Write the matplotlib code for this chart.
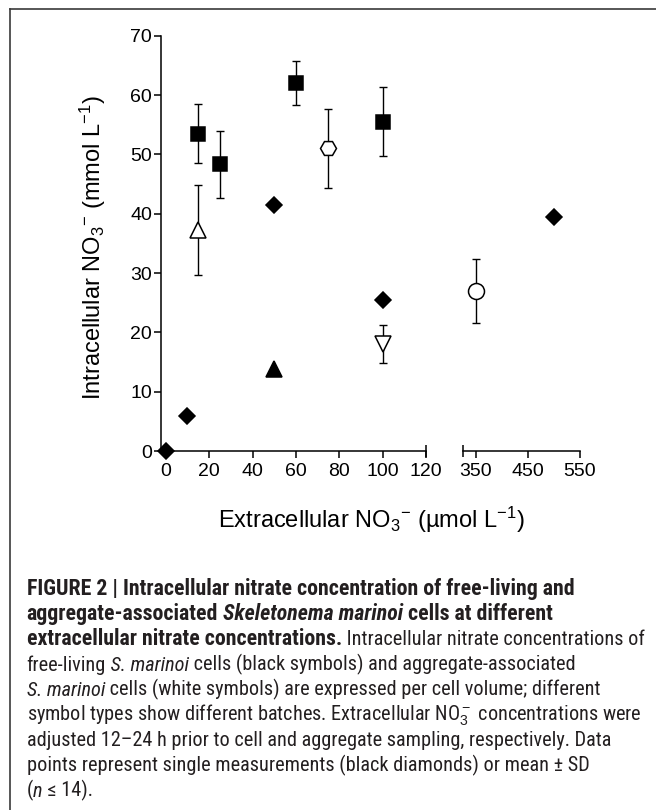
import matplotlib
matplotlib.use("Agg")
import matplotlib.pyplot as plt
import numpy as np
from matplotlib import font_manager
from matplotlib.lines import Line2D

# Free-living cells (black symbols)
diamond_x = [0, 10, 50, 100, 500]
diamond_y = [0.0, 5.9, 41.5, 25.5, 39.5]

square_x = [15, 25, 60, 100]
square_y = [53.5, 48.3, 62.0, 55.5]
square_sd = [5.0, 5.6, 3.7, 5.8]

tri_x = [50]
tri_y = [13.8]

# Aggregate-associated cells (white symbols)
otri_x = [15]
otri_y = [37.3]
otri_sd = [7.6]

hex_x = [75]
hex_y = [51.0]
hex_sd = [6.6]

dtri_x = [100]
dtri_y = [18.1]
dtri_sd = [3.2]

circ_x = [350]
circ_y = [27.0]
circ_sd = [5.4]

yticks = [0, 10, 20, 30, 40, 50, 60, 70]
xticks_low = [0, 20, 40, 60, 80, 100, 120]
xticks_high = [350, 450, 550]

ylabel = r"Intracellular NO$_{3}{}^{-}$ (mmol L$^{-1}$)"
xlabel = r"Extracellular NO$_{3}{}^{-}$ (µmol L$^{-1}$)"

# caption: one list of (text, weight, style) per line
caption_lines = [
    [("FIGURE 2 | Intracellular nitrate concentration of free-living and", "bold", "normal")],
    [("aggregate-associated", "bold", "normal"),
     (" Skeletonema marinoi", "bold", "italic"),
     (" cells at different", "bold", "normal")],
    [("extracellular nitrate concentrations.", "bold", "normal"),
     (" Intracellular nitrate concentrations of", "normal", "normal")],
    [("free-living", "normal", "normal"),
     (" S. marinoi", "normal", "italic"),
     (" cells (black symbols) and aggregate-associated", "normal", "normal")],
    [("S. marinoi", "normal", "italic"),
     (" cells (white symbols) are expressed per cell volume; different", "normal", "normal")],
    [(r"symbol types show different batches. Extracellular NO$_3^-$ concentrations were", "normal", "normal")],
    [("adjusted 12–24 h prior to cell and aggregate sampling, respectively. Data", "normal", "normal")],
    [("points represent single measurements (black diamonds) or mean ± SD", "normal", "normal")],
    [("(", "normal", "normal"), ("n", "normal", "italic"), (" ≤ 14).", "normal", "normal")],
]
# right ends of the first lines in the reference (px), used to size the font
caption_right = [579, 564, 638, 573, 594, 639, 609, 594]

W, H = 656, 810


def as_weight(w):
    return w if isinstance(w, int) else font_manager.weight_dict.get(w, 400)


# the caption in the reference is set in a condensed sans; use one that has
# regular, bold and italic faces if the system has it
faces = {}
for f in font_manager.fontManager.ttflist:
    if ("Narrow" in f.name or "Condensed" in f.name) and "CJK" not in f.name:
        faces.setdefault(f.name, set()).add((as_weight(f.weight), f.style))
cap_font = "Liberation Sans"
preferred = ["Liberation Sans Narrow", "Noto Sans Condensed", "Roboto Condensed",
             "Open Sans Condensed", "DejaVu Sans Condensed"]
ok = [n for n, s in faces.items()
      if (400, "normal") in s and any(w >= 700 for w, _ in s)
      and any(st == "italic" for _, st in s)]
for name in preferred + sorted(ok):
    if name in ok:
        cap_font = name
        break

plt.rcParams["font.family"] = ["Liberation Sans", "DejaVu Sans"]
plt.rcParams["mathtext.fontset"] = "custom"
plt.rcParams["mathtext.rm"] = "Liberation Sans"
plt.rcParams["mathtext.it"] = "Liberation Sans:italic"
plt.rcParams["mathtext.bf"] = "Liberation Sans:bold"

fig = plt.figure(figsize=(W / 100, H / 100), dpi=100)

y0, y1 = 1 - 451 / H, 1 - 35.7 / H
ax1 = fig.add_axes([161 / W, y0, (426 - 161) / W, y1 - y0])
ax2 = fig.add_axes([463.3 / W, y0, (580 - 463.3) / W, y1 - y0])

series = [
    (diamond_x, diamond_y, None, "D", 8.6, "black"),
    (square_x, square_y, square_sd, "s", 10, "black"),
    (tri_x, tri_y, None, "^", 11.5, "black"),
    (otri_x, otri_y, otri_sd, "^", 11, "white"),
    (hex_x, hex_y, hex_sd, "H", 11.5, "white"),
    (dtri_x, dtri_y, dtri_sd, "v", 11, "white"),
    (circ_x, circ_y, circ_sd, "o", 11.5, "white"),
]


def draw_series(ax, lo, hi):
    for x, y, sd, mk, ms, fc in series:
        x = np.asarray(x, dtype=float)
        y = np.asarray(y, dtype=float)
        keep = (x >= lo) & (x <= hi)
        if not keep.any():
            continue
        if sd is not None:
            ax.errorbar(x[keep], y[keep], yerr=np.asarray(sd)[keep], fmt="none",
                        ecolor="black", elinewidth=1.0, capsize=2.7, capthick=1.0,
                        clip_on=False, zorder=2)
        ax.plot(x[keep], y[keep], linestyle="none", marker=mk, ms=ms, mfc=fc,
                mec="black", mew=1.1, clip_on=False, zorder=3)


draw_series(ax1, -10, 120)
draw_series(ax2, 300, 600)

for ax in (ax1, ax2):
    ax.set_ylim(0, 70)
    ax.spines["top"].set_visible(False)
    ax.spines["right"].set_visible(False)
    ax.spines["bottom"].set_linewidth(1.1)
    ax.spines["left"].set_linewidth(1.1)
    ax.tick_params(axis="x", length=5, width=1.1, pad=4, labelsize=14)
    ax.tick_params(axis="y", length=5, width=1.1, pad=1.5, labelsize=14)
    ax.patch.set_visible(False)

ax1.set_xlim(-2.2, 120)
ax1.set_xticks(xticks_low)
ax1.set_yticks(yticks)

ax2.set_xlim(325.6, 550)
ax2.set_xticks(xticks_high)
ax2.spines["left"].set_visible(False)
ax2.tick_params(axis="y", left=False, labelleft=False)

# end caps at the axis break
ax1.plot([1], [0], marker="|", ms=8, mew=1.1, color="black",
         transform=ax1.transAxes, clip_on=False)
ax2.plot([0], [0], marker="|", ms=8, mew=1.1, color="black",
         transform=ax2.transAxes, clip_on=False)

fig.text(101 / W, 1 - 248 / H, ylabel, rotation=90, rotation_mode="anchor",
         ha="center", va="baseline", fontsize=17)
fig.text(371 / W, 1 - 528 / H, xlabel, ha="center", va="baseline", fontsize=17)

# caption frame (top and left rules)
fig.add_artist(Line2D([10 / W, 1], [1 - 9 / H] * 2, transform=fig.transFigure,
                      color="#3a3a3a", lw=1.2))
fig.add_artist(Line2D([10 / W] * 2, [1 - 9 / H, 0], transform=fig.transFigure,
                      color="#3a3a3a", lw=1.2))

renderer = fig.canvas.get_renderer()
cap_left = 26.7
cap_base = 595
cap_step = 25.2


def place_caption(fs_reg, fs_bold):
    arts, rights = [], []
    for i, segs in enumerate(caption_lines):
        x = cap_left
        yb = 1 - (cap_base + i * cap_step) / H
        for text, weight, style in segs:
            fs = fs_bold if weight == "bold" else fs_reg
            t = fig.text(x / W, yb, text, fontsize=fs, family=[cap_font, "DejaVu Sans"],
                         weight=weight, style=style, color="#231f20",
                         ha="left", va="baseline")
            x = t.get_window_extent(renderer=renderer).x1
            arts.append(t)
        rights.append(x)
    return arts, rights


fs0 = 12
arts, rights = place_caption(fs0, fs0)
ratios = [(r - cap_left) / (w - cap_left) for r, w in zip(caption_right, rights)]
for a in arts:
    a.remove()
fs_bold = fs0 * float(np.mean(ratios[0:2]))
fs_reg = fs0 * float(np.median(ratios[3:8]))
place_caption(fs_reg, min(fs_bold, fs_reg * 1.08))

fig.savefig("out.png", dpi=100)
